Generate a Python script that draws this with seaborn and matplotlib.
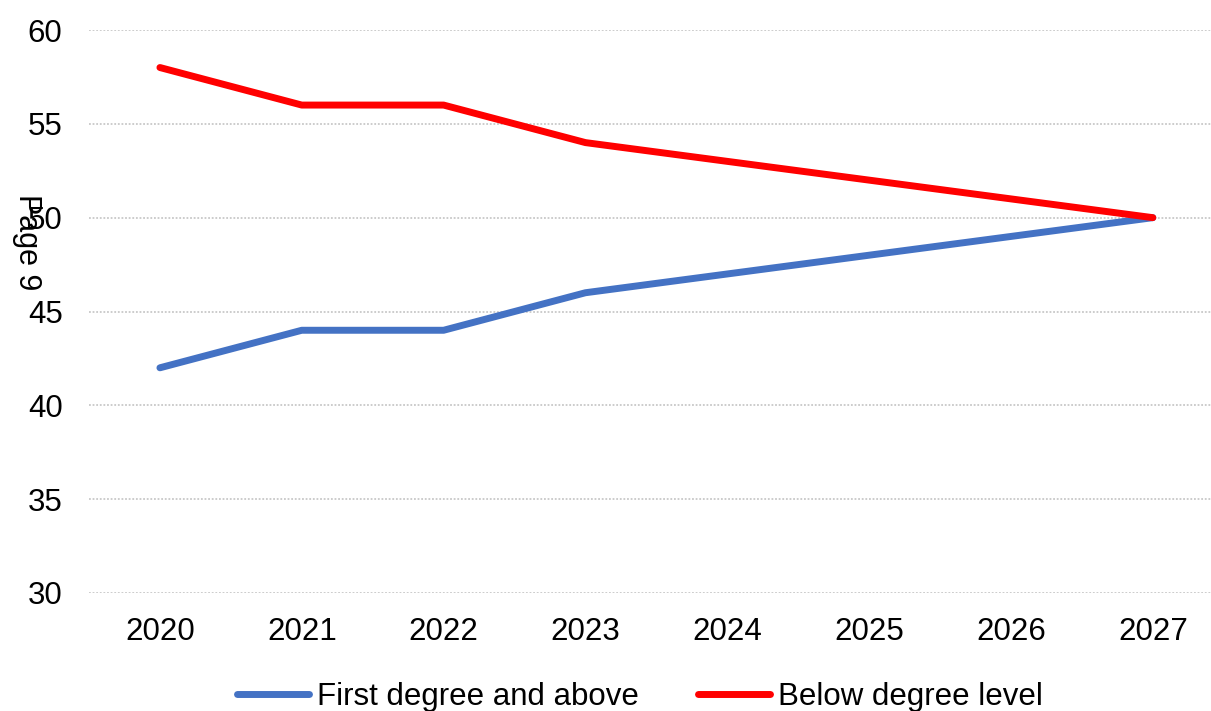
import pandas as pd
import matplotlib.pyplot as plt
import seaborn as sns

# --- Data ---
years = [2020, 2021, 2022, 2023, 2024, 2025, 2026, 2027]
first_degree = [42, 44, 44, 46, 47, 48, 49, 50]
below_degree = [58, 56, 56, 54, 53, 52, 51, 50]
series_names = ['First degree and above', 'Below degree level']
colors = ['#4472C4', '#FF0000']


def main():
    df = pd.DataFrame({
        'Year': years * 2,
        'Value': first_degree + below_degree,
        'Series': [series_names[0]] * len(years) + [series_names[1]] * len(years),
    })

    sns.set_theme(style="white")
    plt.rcParams['font.family'] = ['Liberation Sans', 'DejaVu Sans']

    fig = plt.figure(figsize=(12.11, 7.11), dpi=100)
    ax = fig.add_axes([89 / 1211, 1 - 593 / 711, 1 - 89 / 1211, (593 - 30) / 711])

    sns.lineplot(data=df, x='Year', y='Value', hue='Series', palette=colors,
                 linewidth=5, ax=ax, legend=False, solid_capstyle='round')

    ax.set_ylim(30, 60)
    ax.set_xlim(2019.5, 2027.41)
    ax.set_yticks([30, 35, 40, 45, 50, 55, 60])
    ax.set_xticks(years)
    ax.set_xticklabels([str(y) for y in years])
    ax.yaxis.grid(True, color='#C8C8C8', linestyle=(0, (1, 1)), linewidth=1.3)
    ax.set_axisbelow(True)
    for s in ax.spines.values():
        s.set_visible(False)
    ax.tick_params(axis='both', length=0, labelsize=22.5, colors='black')
    ax.tick_params(axis='y', pad=19)
    ax.tick_params(axis='x', pad=17)
    ax.set_xlabel('')
    ax.set_ylabel('')

    # Legend at the bottom (partly cut off as in the source)
    handles = [plt.Line2D([0], [0], color=c, linewidth=5, solid_capstyle='round') for c in colors]
    leg = fig.legend(handles, series_names, loc='center left',
                     bbox_to_anchor=(237 / 1211, 1 - 697 / 711),
                     ncol=2, frameon=False, fontsize=22.5, handlelength=2.3,
                     handletextpad=0.25, columnspacing=1.9, borderpad=0, borderaxespad=0)
    for t in leg.get_texts():
        t.set_color('black')

    # Stray page marker overlapping the y axis
    fig.text(27 / 1211, 1 - 242 / 711, 'Page 9', rotation=270, fontsize=22,
             ha='center', va='center', color='black')

    plt.savefig('out.png', dpi=100)


if __name__ == "__main__":
    main()
